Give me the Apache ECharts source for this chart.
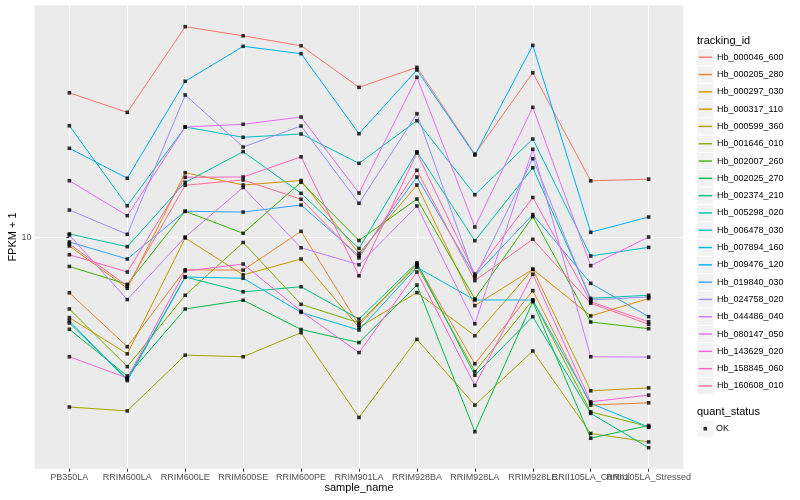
<!DOCTYPE html>
<html><head><meta charset="utf-8">
<script src="https://cdn.jsdelivr.net/npm/echarts@6/dist/echarts.min.js"></script>
<style>html,body{margin:0;padding:0;background:#fff}#c{width:800px;height:500px}</style>
</head><body><div id="c"></div>
<script>
const categories = ['PB350LA','RRIM600LA','RRIM600LE','RRIM600SE','RRIM600PE','RRIM901LA','RRIM928BA','RRIM928LA','RRIM928LE','RRII105LA_Control','RRII105LA_Stressed'];
const trackingIds = ['Hb_000046_600','Hb_000205_280','Hb_000297_030','Hb_000317_110','Hb_000599_360','Hb_001646_010','Hb_002007_260','Hb_002025_270','Hb_002374_210','Hb_005298_020','Hb_006478_030','Hb_007894_160','Hb_009476_120','Hb_019840_030','Hb_024758_020','Hb_044486_040','Hb_080147_050','Hb_143629_020','Hb_158845_060','Hb_160608_010'];
const colors = ['#F8766D','#EA8331','#D89000','#C09B00','#A3A500','#7CAE00','#39B600','#00BB4E','#00BF7D','#00C1A3','#00BFC4','#00BAE0','#00B0F6','#35A2FF','#9590FF','#C77CFF','#E76BF3','#FA62DB','#FF62BC','#FF6C91'];
const yTicks = [10];
const quantStatus = ['OK'];

const Hb_000046_600 = [30.2, 26.0, 50.1, 46.7, 43.3, 31.5, 36.7, 18.9, 35.2, 15.4, 15.6];
const Hb_000205_280 = [6.54, 4.33, 7.80, 7.78, 10.47, 5.11, 8.15, 3.80, 6.65, 2.77, 2.82];
const Hb_000297_030 = [9.36, 6.77, 16.39, 14.92, 15.44, 8.84, 14.92, 5.93, 7.83, 5.48, 6.26];
const Hb_000317_110 = [5.41, 4.10, 9.95, 7.50, 8.47, 5.02, 6.55, 4.71, 7.83, 3.09, 3.16];
const Hb_000599_360 = [2.73, 2.65, 4.06, 4.01, 4.82, 2.52, 4.58, 2.77, 4.19, 2.23, 2.09];
const Hb_001646_010 = [5.78, 3.72, 6.42, 9.61, 5.99, 5.20, 8.05, 3.58, 6.19, 2.63, 2.35];
const Hb_002007_260 = [8.00, 6.98, 12.20, 10.31, 15.24, 9.76, 13.40, 6.24, 11.71, 5.23, 4.97];
const Hb_002025_270 = [4.95, 3.46, 5.78, 6.18, 4.94, 4.47, 6.94, 2.26, 6.11, 2.15, 2.37];
const Hb_002374_210 = [5.19, 3.38, 7.38, 6.59, 6.85, 5.35, 8.23, 3.48, 5.45, 2.60, 2.00];
const Hb_005298_020 = [10.26, 9.31, 15.23, 19.25, 14.00, 9.18, 19.25, 9.74, 17.03, 6.27, 6.42];
const Hb_006478_030 = [23.48, 12.73, 23.25, 21.49, 22.04, 17.61, 24.40, 13.85, 21.21, 8.67, 9.26];
const Hb_007894_160 = [5.28, 3.34, 7.38, 7.31, 5.63, 4.92, 7.95, 6.19, 6.19, 2.81, 2.34];
const Hb_009476_120 = [19.76, 15.71, 32.98, 43.11, 40.74, 22.09, 35.96, 18.77, 43.44, 10.39, 11.68];
const Hb_019840_030 = [9.65, 8.47, 12.20, 12.13, 12.80, 8.68, 15.86, 7.45, 11.90, 7.03, 5.45];
const Hb_024758_020 = [12.32, 10.23, 29.70, 19.95, 23.43, 12.97, 25.74, 7.36, 18.25, 6.19, 6.34];
const Hb_044486_040 = [10.18, 6.21, 10.02, 14.64, 9.23, 8.11, 12.71, 5.16, 19.61, 4.01, 4.00];
const Hb_080147_050 = [15.42, 11.80, 23.25, 23.74, 25.10, 14.03, 34.01, 10.82, 27.03, 8.05, 10.02];
const Hb_143629_020 = [4.01, 3.41, 7.73, 8.15, 5.68, 4.14, 7.67, 3.22, 7.54, 2.84, 2.99];
const Hb_158845_060 = [8.75, 7.67, 15.83, 15.86, 18.51, 7.45, 19.06, 7.55, 13.56, 6.11, 5.24];
const Hb_160608_010 = [9.50, 6.89, 14.89, 15.50, 13.38, 8.54, 16.70, 7.18, 9.85, 6.04, 5.14];

const seriesValues = [Hb_000046_600, Hb_000205_280, Hb_000297_030, Hb_000317_110, Hb_000599_360, Hb_001646_010, Hb_002007_260, Hb_002025_270, Hb_002374_210, Hb_005298_020, Hb_006478_030, Hb_007894_160, Hb_009476_120, Hb_019840_030, Hb_024758_020, Hb_044486_040, Hb_080147_050, Hb_143629_020, Hb_158845_060, Hb_160608_010];

const FONT = 'Liberation Sans, Arial, Helvetica, sans-serif';
const catIdx = categories.map((c, i) => i);
const evenIdx = catIdx.filter(i => i % 2 === 0);
const oddIdx = catIdx.filter(i => i % 2 === 1);

const lineSeries = trackingIds.map((id, k) => ({
  name: id, type: 'line', symbol: 'none', xAxisIndex: 0, yAxisIndex: 0,
  data: seriesValues[k].map((v, i) => [i, v]),
  lineStyle: { color: colors[k], width: 1 },
  itemStyle: { color: colors[k] },
  emphasis: { disabled: true }, silent: true, z: 2
}));
const pointData = [];
seriesValues.forEach(vals => vals.forEach((v, i) => pointData.push([i, v])));
const pointSeries = {
  name: quantStatus[0], type: 'scatter', symbol: 'rect', symbolSize: 3.6, xAxisIndex: 0, yAxisIndex: 0,
  data: pointData, itemStyle: { color: '#000' },
  emphasis: { disabled: true }, silent: true, z: 4
};

const labelStyle = { color: '#4D4D4D', fontSize: 9, margin: 4, hideOverlap: false, fontFamily: FONT, formatter: v => categories[Math.round(v)] };

const chart = echarts.init(document.getElementById('c'), null, { renderer: 'canvas' });
chart.setOption({
  animation: false,
  backgroundColor: '#fff',
  textStyle: { fontFamily: FONT },
  title: [
    { text: 'tracking_id', left: 697, top: 35.5, padding: 0, textStyle: { fontSize: 11, fontWeight: 'normal', color: '#000', fontFamily: FONT } },
    { text: 'quant_status', left: 697, top: 406.5, padding: 0, textStyle: { fontSize: 11, fontWeight: 'normal', color: '#000', fontFamily: FONT } }
  ],
  grid: { left: 34.6, right: 116.6, top: 5.3, bottom: 31.3, show: true, backgroundColor: '#EBEBEB', borderWidth: 0, containLabel: false, outerBoundsMode: 'none' },
  xAxis: [
    {
      type: 'value', min: -0.6, max: 10.6, position: 'bottom',
      axisLine: { show: false },
      axisTick: { show: true, customValues: catIdx, length: 3, lineStyle: { color: '#333333', width: 1 } },
      axisLabel: Object.assign({ customValues: evenIdx }, labelStyle),
      splitLine: { show: true, lineStyle: { color: '#FFFFFF', width: 1 } },
      name: 'sample_name', nameLocation: 'middle', nameGap: 14, nameMoveOverlap: false,
      nameTextStyle: { color: '#000', fontSize: 11, fontFamily: FONT }
    },
    {
      type: 'value', min: -0.6, max: 10.6, position: 'bottom', offset: 0,
      axisLine: { show: false },
      axisTick: { show: false },
      axisLabel: Object.assign({ customValues: oddIdx }, labelStyle),
      splitLine: { show: false }
    }
  ],
  yAxis: {
    type: 'log', logBase: 10, min: 1.703, max: 58.99,
    axisLine: { show: false },
    axisTick: { show: true, customValues: yTicks, length: 3, lineStyle: { color: '#333333', width: 1 } },
    axisLabel: { customValues: yTicks, color: '#4D4D4D', fontSize: 9, margin: 3, fontFamily: FONT },
    splitLine: { show: true, lineStyle: { color: '#FFFFFF', width: 1 } },
    minorSplitLine: { show: false },
    name: 'FPKM + 1', nameLocation: 'middle', nameGap: 16.5, nameRotate: 90, nameMoveOverlap: false,
    nameTextStyle: { color: '#000', fontSize: 11, fontFamily: FONT }
  },
  legend: [
    { orient: 'vertical', left: 697.3, top: 49.1, itemWidth: 16, itemHeight: 16.3, itemGap: 1, icon: 'rect', selectedMode: false, padding: 0, z: 2,
      data: trackingIds.map(n => ({ name: n, itemStyle: { color: '#F2F2F2', borderWidth: 0 } })),
      textStyle: { color: 'rgba(0,0,0,0)', fontSize: 9 } },
    { orient: 'vertical', left: 698.6, top: 49.1, itemWidth: 13.4, itemHeight: 1.4, itemGap: 1, icon: 'rect', selectedMode: false, padding: 0, z: 3,
      data: trackingIds.map((n, k) => ({ name: n, itemStyle: { color: colors[k], borderWidth: 0 } })),
      textStyle: { color: '#000', fontSize: 9, lineHeight: 16.3, fontFamily: FONT } },
    { orient: 'vertical', left: 697.3, top: 420.55, itemWidth: 16, itemHeight: 16.3, itemGap: 1, icon: 'rect', selectedMode: false, padding: 0, z: 2,
      data: quantStatus.map(n => ({ name: n, itemStyle: { color: '#F2F2F2', borderWidth: 0 } })),
      textStyle: { color: 'rgba(0,0,0,0)', fontSize: 9 } },
    { orient: 'vertical', left: 703.5, top: 420.55, itemWidth: 3.6, itemHeight: 3.6, itemGap: 1, icon: 'rect', selectedMode: false, padding: 0, z: 3,
      data: quantStatus.map(n => ({ name: n, itemStyle: { color: '#000', borderWidth: 0 } })),
      textStyle: { color: '#000', fontSize: 9, lineHeight: 16.3, padding: [0, 0, 0, 4], fontFamily: FONT } }
  ],
  series: lineSeries.concat([pointSeries])
});
</script>
</body></html>
